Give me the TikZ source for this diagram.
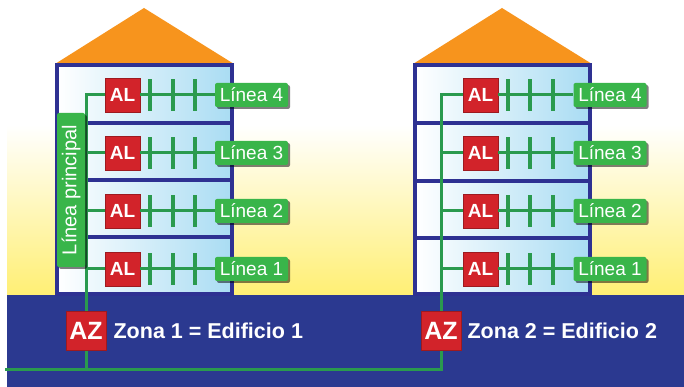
\documentclass[tikz,border=0pt]{standalone}
\usepackage{fontspec}
\setmainfont{Liberation Sans}
\definecolor{zoneground}{HTML}{2B3990}
\definecolor{zonewall}{HTML}{2E3192}
\definecolor{zoneroof}{HTML}{F7941D}
\definecolor{zonefloor}{HTML}{A9DCF3}
\definecolor{zoneyellow}{HTML}{FFEF74}
\definecolor{zonered}{HTML}{D2232A}
\definecolor{zonegreen}{HTML}{39B54A}
\definecolor{zoneline}{HTML}{2A9A4E}
\usetikzlibrary{positioning, shadows}

\begin{document}
\begin{tikzpicture}[x=1pt, y=1pt,
    wall/.style={draw=zonewall, line width=3.5pt},
    bus/.style={draw=zoneline, line width=3pt},
    tick/.style={draw=zoneline, line width=3.5pt},
    albox/.style={fill=zonered, draw=zonered!75!black, line width=0.8pt,
      minimum width=35pt, minimum height=34pt, inner sep=0pt, text=white,
      font=\fontsize{19}{19}\selectfont\bfseries},
    azbox/.style={albox, minimum width=40pt, minimum height=39pt,
      font=\fontsize{25}{25}\selectfont\bfseries},
    lineabox/.style={fill=zonegreen, rounded corners=2pt, minimum width=73pt,
      minimum height=24pt, inner sep=0pt, text=white,
      font=\fontsize{19}{19}\selectfont,
      drop shadow={shadow xshift=2pt, shadow yshift=-2pt, fill=black, opacity=0.5}},
    zonetext/.style={inner sep=0pt, text=white,
      font=\fontsize{21.5}{21.5}\selectfont\bfseries}]
  \useasboundingbox (0,0) rectangle (684,387);

  % ---- sky and ground ----
  \fill[white] (0,0) rectangle (684,387);
  \shade[top color=white, bottom color=zoneyellow] (7,92) rectangle (684,262);
  \fill[zoneground] (7,0) rectangle (684,92);

  % ---- building 1 ----
  \fill[zoneroof] (55,323) -- (144,379) -- (234,323) -- cycle;
  \shade[left color=white, right color=zonefloor] (57,93) rectangle (232,322);
  \draw[wall] (57,93) rectangle (232,322);
  \draw[wall] (57,264) -- (232,264);
  \draw[wall] (57,207) -- (232,207);
  \draw[wall] (57,150) -- (232,150);

  % ---- building 2 ----
  \fill[zoneroof] (413,323) -- (502,379) -- (592,323) -- cycle;
  \shade[left color=white, right color=zonefloor] (415,93) rectangle (590,322);
  \draw[wall] (415,93) rectangle (590,322);
  \draw[wall] (415,264) -- (590,264);
  \draw[wall] (415,206) -- (590,206);
  \draw[wall] (415,149) -- (590,149);

  % ---- line couplers and lines, building 1 ----
  \node[albox] (alA4) at (122.5,292) {AL};
  \node[albox] (alA3) at (122.5,234) {AL};
  \node[albox] (alA2) at (122.5,176) {AL};
  \node[albox] (alA1) at (122.5,118) {AL};
  \node[lineabox] (lnA4) at (251.5,292) {Línea 4};
  \node[lineabox] (lnA3) at (251.5,234) {Línea 3};
  \node[lineabox] (lnA2) at (251.5,176) {Línea 2};
  \node[lineabox] (lnA1) at (251.5,118) {Línea 1};
  \coordinate (tapA4) at (86,292);
  \coordinate (tapA3) at (86,234);
  \coordinate (tapA2) at (86,176);
  \coordinate (tapA1) at (86,118);
  \draw[bus] (tapA3) -- (alA3);
  \draw[bus] (tapA2) -- (alA2);
  \draw[bus] (tapA1) -- (alA1);
  \draw[bus] (alA4) -- (lnA4);
  \draw[bus] (alA3) -- (lnA3);
  \draw[bus] (alA2) -- (lnA2);
  \draw[bus] (alA1) -- (lnA1);
  \draw[tick] (150,276) -- ++(0,32) (173,276) -- ++(0,32) (195,276) -- ++(0,32);
  \draw[tick] (150,218) -- ++(0,32) (173,218) -- ++(0,32) (195,218) -- ++(0,32);
  \draw[tick] (150,160) -- ++(0,32) (173,160) -- ++(0,32) (195,160) -- ++(0,32);
  \draw[tick] (150,102) -- ++(0,32) (173,102) -- ++(0,32) (195,102) -- ++(0,32);

  % ---- line couplers and lines, building 2 ----
  \node[albox] (alB4) at (480.5,292) {AL};
  \node[albox] (alB3) at (480.5,234) {AL};
  \node[albox] (alB2) at (480.5,176) {AL};
  \node[albox] (alB1) at (480.5,118) {AL};
  \node[lineabox] (lnB4) at (610,292) {Línea 4};
  \node[lineabox] (lnB3) at (610,234) {Línea 3};
  \node[lineabox] (lnB2) at (610,176) {Línea 2};
  \node[lineabox] (lnB1) at (610,118) {Línea 1};
  \coordinate (tapB4) at (441,292);
  \coordinate (tapB3) at (441,234);
  \coordinate (tapB2) at (441,176);
  \coordinate (tapB1) at (441,118);
  \draw[bus] (tapB3) -- (alB3);
  \draw[bus] (tapB2) -- (alB2);
  \draw[bus] (tapB1) -- (alB1);
  \draw[bus] (alB4) -- (lnB4);
  \draw[bus] (alB3) -- (lnB3);
  \draw[bus] (alB2) -- (lnB2);
  \draw[bus] (alB1) -- (lnB1);
  \draw[tick] (508,276) -- ++(0,32) (530,276) -- ++(0,32) (553,276) -- ++(0,32);
  \draw[tick] (508,218) -- ++(0,32) (530,218) -- ++(0,32) (553,218) -- ++(0,32);
  \draw[tick] (508,160) -- ++(0,32) (530,160) -- ++(0,32) (553,160) -- ++(0,32);
  \draw[tick] (508,102) -- ++(0,32) (530,102) -- ++(0,32) (553,102) -- ++(0,32);

  % ---- area couplers and backbone ----
  \node[azbox] (azA) at (86,56) {AZ};
  \node[azbox] (azB) at (441,56) {AZ};
  \node[zonetext, right=7pt of azA] (zonaA) {Zona 1 = Edificio 1};
  \node[zonetext, right=6pt of azB] (zonaB) {Zona 2 = Edificio 2};
  \coordinate (busL) at (5,17);
  \coordinate (busA) at (86,17);
  \coordinate (busB) at (441,17);
  \draw[bus, line join=miter] (alA4) -- (tapA4) -- (azA);
  \draw[bus, line join=miter] (alB4) -- (tapB4) -- (azB);
  \draw[bus] (azA) -- (busA);
  \draw[bus, line join=miter] (busL) -- (busB) -- (azB);

  % main line label
  \node[lineabox, rotate=90, minimum width=154pt, minimum height=28pt,
        font=\fontsize{20}{20}\selectfont] (mainA) at (71,197) {Línea principal};
\end{tikzpicture}
\end{document}
